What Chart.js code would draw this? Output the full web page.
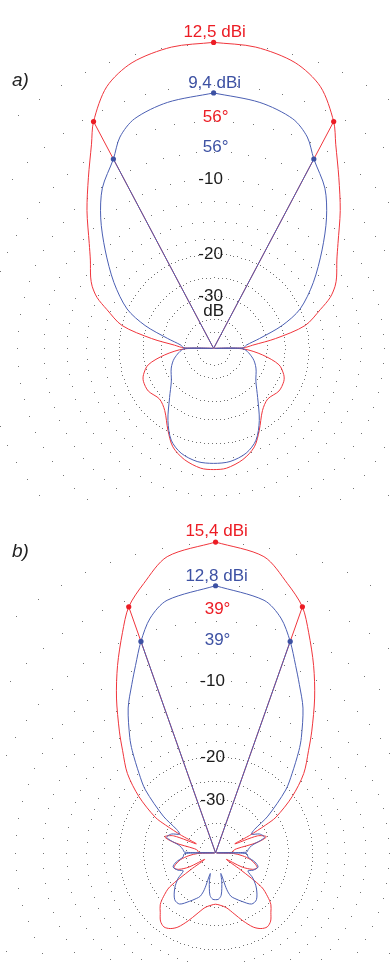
<!DOCTYPE html>
<html><head><meta charset="utf-8">
<script src="https://cdn.jsdelivr.net/npm/chart.js@4.4.1/dist/chart.umd.min.js"></script>
<style>
html,body{margin:0;padding:0;background:#fff;}
#wrap{position:relative;width:390px;height:963px;overflow:hidden;background:#fff;}
canvas{position:absolute;left:0;}
</style></head><body>
<div id="wrap">
<canvas id="ca" width="390" height="500" style="top:0px"></canvas>
<canvas id="cb" width="390" height="463" style="top:500px"></canvas>
</div>
<script>
// ---------- DATA (dB relative to the red maximum; half pattern, symmetric) ----------
// Panel a)
const A_RED_ANGLES = [0,8,16,22.3,28,31,36.4,42.7,50,54.5,60,63,66.5,70,76,81,85.3,89,90,91,97.6,104,110.4,115,123,133,141.7,150.7,157.4,165.2,173.8,180];
const A_RED_DB     = [0,-0.1,-0.5,-1.35,-3.0,-4.3,-6.3,-8.4,-10.8,-12.0,-13.1,-13.8,-15.0,-16.9,-20.1,-27.1,-35.2,-40,-99,-40,-31.2,-25.9,-24.1,-23.5,-23.4,-24.3,-23.2,-20.3,-18.1,-16.8,-16.0,-15.9];
const A_BLUE_ANGLES = [0,10.7,19.1,24,28,34.9,41,47.9,56.7,65.6,71.6,77.9,84.3,89,90,91,104,114.8,127.6,138,147.5,155.1,162.7,171.7,180];
const A_BLUE_DB     = [-3.1,-3.45,-3.96,-4.8,-6.1,-7.7,-9.8,-12.6,-16.1,-20.0,-24.7,-32.1,-38.2,-40,-99,-40,-34.7,-32.2,-29.9,-26.3,-21.9,-19.0,-17.6,-16.9,-16.8];
const A_PEAK_DBI = [12.5, 9.4];      // red, blue
const A_BEAMWIDTH = [56, 56];        // red, blue (degrees, -3 dB)
const A_RING_LABELS = [-10, -20, -30];

// Panel b)
const B_RED_ANGLES = [0,9.3,15,19.5,23,27.7,32.7,38.4,42.4,48.1,53.8,59.5,61,63,65,68,72.5,76,79,83,88,90,92,96,101,106,110,114,118,121,124,126.5,130,133,137,141,145,149,153,158,163,169,175,180];
const B_RED_DB     = [0,-0.6,-1.87,-3.0,-4.5,-6.6,-9.0,-11.9,-13.9,-16.5,-20.3,-25.5,-29,-36,-46,-33,-30.2,-34,-46,-49,-49.5,-99,-49,-42,-37,-34.5,-33.4,-35,-40,-55,-40,-29,-26,-24.2,-23,-21.7,-21.2,-21.6,-22.6,-24.8,-27.2,-29.5,-30.5,-30.9];
const B_BLUE_ANGLES = [0,10.9,15.6,19.5,23.2,26.5,31.2,36.7,39.3,44.1,48.2,55,59,62.6,67,72.6,78.7,84,88.7,90,91.3,97.4,103,108.3,114.8,119,124.2,130.8,138.8,144.8,151.6,157,160.5,163,165.5,167.5,170,172.5,176.5,180];
const B_BLUE_DB     = [-2.6,-3.25,-4.17,-5.6,-7.24,-8.6,-10.43,-13.2,-14.7,-17.8,-20.45,-27.1,-32.9,-34.9,-32,-30.9,-36.6,-38.5,-39.5,-99,-39.5,-38.5,-35,-33.2,-34.6,-36.5,-33,-30,-27.6,-27.5,-29.7,-31.5,-32.8,-36,-46,-41,-37,-34,-32.6,-32.5];
const B_PEAK_DBI = [15.4, 12.8];
const B_BEAMWIDTH = [39, 39];
const B_RING_LABELS = [-10, -20, -30];

// grid rings (dB)
const RING_DB = [0,-2.5,-5,-7.5,-10,-12.5,-15,-17.5,-20,-25,-30,-40,-50];

// ---------- helpers ----------
const RED = '#ec1c24', BLUE = '#3d51a3';
const RED_LINE = '#f0353c', BLUE_LINE = '#4b5fb3';
const FONT = '"Liberation Sans", Arial, sans-serif';
function radius(dB){ return Math.pow(0.89, -dB/2); }   // ARRL-style log scale
function pt(aDeg, dB){ const t = aDeg*Math.PI/180, r = radius(dB); return {x:r*Math.sin(t), y:r*Math.cos(t)}; }
function curve(angles, dbs){
  const right = angles.map((a,i)=>pt(a, dbs[i]));
  const left = right.slice(0,-1).reverse().map(p=>({x:-p.x, y:p.y}));
  return right.concat(left);
}
const fmt = v => v.toFixed(1).replace('.', ',');

const deco = {
  id:'deco',
  beforeDatasetsDraw(chart, args, o){
    const ctx = chart.ctx, xs = chart.scales.x, ys = chart.scales.y;
    const cx = xs.getPixelForValue(0), cy = ys.getPixelForValue(0);
    const R0 = xs.getPixelForValue(1) - cx;
    ctx.save();
    o.rings.forEach(db=>{
      const r = R0*radius(db);
      let n;
      if (db > -19) { n = 72; ctx.fillStyle = 'rgba(70,70,70,0.75)'; }
      else { n = Math.round(2*Math.PI*r/4); ctx.fillStyle = 'rgba(80,80,80,0.8)'; }
      for(let i=0;i<n;i++){
        const t = i*2*Math.PI/n;
        ctx.fillRect(Math.round(cx + r*Math.sin(t)), Math.round(cy - r*Math.cos(t)), 1, 1);
      }
    });
    ctx.restore();
  },
  afterDatasetsDraw(chart, args, o){
    const ctx = chart.ctx, xs = chart.scales.x, ys = chart.scales.y;
    const cx = xs.getPixelForValue(0), cy = ys.getPixelForValue(0);
    const R0 = xs.getPixelForValue(1) - cx;
    const relBlue = o.peaks[1]-o.peaks[0];
    const yRed = cy - R0*radius(0), yBlue = cy - R0*radius(relBlue);
    ctx.save();
    ctx.font = '17px '+FONT;
    ctx.textAlign = 'center'; ctx.textBaseline = 'alphabetic';
    ctx.fillStyle = RED;  ctx.fillText(fmt(o.peaks[0])+' dBi', cx+1, yRed-7);
    ctx.fillStyle = BLUE; ctx.fillText(fmt(o.peaks[1])+' dBi', cx+1, yBlue-6);
    ctx.fillStyle = RED;  ctx.fillText(o.bw[0]+'°', cx+2, yBlue+27.5);
    ctx.fillStyle = BLUE; ctx.fillText(o.bw[1]+'°', cx+2, yBlue+58);
    ctx.fillStyle = '#1b1b1b'; ctx.textBaseline = 'middle';
    o.ringLabels.forEach(L=>{
      const y = cy - R0*radius(L);
      ctx.fillText(String(L), cx-3, y+1);
    });
    if (o.unit){
      const y = cy - R0*radius(o.ringLabels[o.ringLabels.length-1]);
      ctx.fillText(o.unit, cx, y+16);
    }
    ctx.font = 'italic 19px '+FONT; ctx.textAlign='left'; ctx.textBaseline='alphabetic';
    ctx.fillStyle = '#222';
    ctx.fillText(o.panel, o.panelPos[0], o.panelPos[1]);
    ctx.restore();
  }
};

function build(id, spec){
  const {w,h,center,r0} = spec;
  const relBlue = spec.peaks[1]-spec.peaks[0];
  const half = spec.bw.map(b=>b/2);
  const line = (data,color,order)=>({data, borderColor:color, backgroundColor:color, borderWidth:1, showLine:true, pointRadius:0, tension:0.3, order, clip:false});
  const datasets = [
    line(curve(spec.redA, spec.redDb), RED_LINE, 6),
    line(curve(spec.blueA, spec.blueDb), BLUE_LINE, 5),
    {...line([pt(-half[0],-3), {x:0,y:0}, pt(half[0],-3)], RED_LINE, 4), tension:0},
    {...line([pt(-half[1],relBlue-3), {x:0,y:0}, pt(half[1],relBlue-3)], BLUE_LINE, 3), tension:0},
    {data:[pt(-half[0],-3), pt(0,0), pt(half[0],-3)], showLine:false, pointRadius:2.6, pointBorderWidth:0, backgroundColor:RED, borderColor:RED, order:2},
    {data:[pt(-half[1],relBlue-3), pt(0,relBlue), pt(half[1],relBlue-3)], showLine:false, pointRadius:2.6, pointBorderWidth:0, backgroundColor:BLUE, borderColor:BLUE, order:1}
  ];
  return new Chart(document.getElementById(id), {
    type:'scatter',
    data:{datasets},
    options:{
      responsive:false, animation:false, devicePixelRatio:1,
      layout:{padding:0},
      events:[],
      scales:{
        x:{type:'linear', display:false, min:-center[0]/r0, max:(w-center[0])/r0},
        y:{type:'linear', display:false, min:-(h-center[1])/r0, max:center[1]/r0}
      },
      plugins:{
        legend:{display:false}, tooltip:{enabled:false},
        deco:{rings:RING_DB, peaks:spec.peaks, bw:spec.bw, ringLabels:spec.ringLabels, unit:spec.unit, panel:spec.panel, panelPos:spec.panelPos}
      }
    },
    plugins:[deco]
  });
}

build('ca', {w:390,h:500,center:[214,350],r0:311,
  redA:A_RED_ANGLES, redDb:A_RED_DB, blueA:A_BLUE_ANGLES, blueDb:A_BLUE_DB,
  peaks:A_PEAK_DBI, bw:A_BEAMWIDTH, ringLabels:A_RING_LABELS, unit:'dB', panel:'a)', panelPos:[12,86]});
build('cb', {w:390,h:463,center:[216,355],r0:316.3,
  redA:B_RED_ANGLES, redDb:B_RED_DB, blueA:B_BLUE_ANGLES, blueDb:B_BLUE_DB,
  peaks:B_PEAK_DBI, bw:B_BEAMWIDTH, ringLabels:B_RING_LABELS, unit:'', panel:'b)', panelPos:[12,57]});
</script>
</body></html>
